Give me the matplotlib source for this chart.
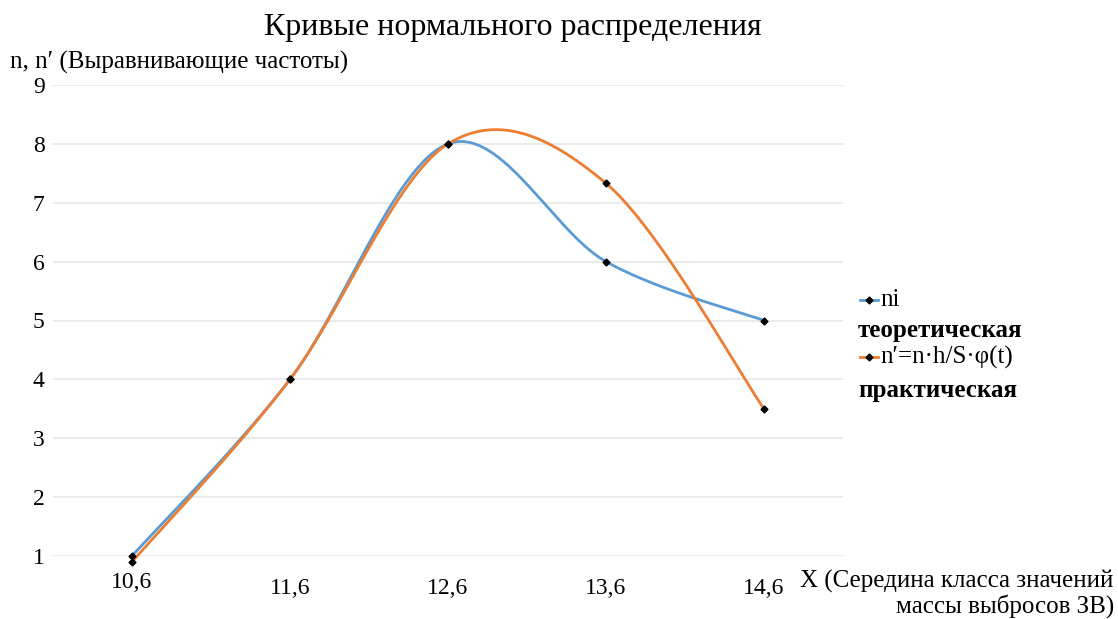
import numpy as np
import matplotlib
matplotlib.use("Agg")
import matplotlib.pyplot as plt
from matplotlib.lines import Line2D

categories = ["10,6", "11,6", "12,6", "13,6", "14,6"]
ni_theor = [1.0, 4.0, 8.0, 6.0, 5.0]
n_pract = [0.9, 4.0, 8.0, 7.33, 3.5]
y_ticks = [1, 2, 3, 4, 5, 6, 7, 8, 9]

title = "Кривые нормального распределения"
y_label = "n, n′ (Выравнивающие частоты)"
x_label1 = "X (Середина класса значений"
x_label2 = "массы выбросов ЗВ)"
leg1_a, leg1_b = "ni", "теоретическая"
leg2_a, leg2_b = "n′=n·h/S·φ(t)", "практическая"

c_blue = "#5B9BD5"
c_orange = "#ED7D31"

plt.rcParams['font.family'] = ['Liberation Serif', 'DejaVu Serif']


def smooth(xs, ys, n=60):
    xs = np.asarray(xs, float)
    ys = np.asarray(ys, float)
    P = np.column_stack([xs, ys])
    out = [P[0]]
    for i in range(len(P) - 1):
        p0 = P[i - 1] if i > 0 else P[i]
        p1 = P[i]
        p2 = P[i + 1]
        p3 = P[i + 2] if i + 2 < len(P) else P[i + 1]
        c1 = p1 + (p2 - p0) / 6.0
        c2 = p2 - (p3 - p1) / 6.0
        t = np.linspace(0, 1, n)[1:, None]
        seg = ((1 - t) ** 3) * p1 + 3 * ((1 - t) ** 2) * t * c1 + 3 * (1 - t) * t ** 2 * c2 + t ** 3 * p2
        out.extend(seg)
    out = np.array(out)
    return out[:, 0], out[:, 1]


fig = plt.figure(figsize=(11.18, 6.19), dpi=100)
ax = fig.add_axes([53 / 1118, 1 - 556 / 619, 790 / 1118, (556 - 85) / 619])

x = np.arange(len(categories))
for vals, col in [(ni_theor, c_blue), (n_pract, c_orange)]:
    sx, sy = smooth(x, vals)
    ax.plot(sx, sy, color=col, lw=2.0, clip_on=False, zorder=3, solid_capstyle='round')
    ax.plot(x, vals, linestyle='none', marker='D', ms=3.5, color='black', clip_on=False, zorder=4)

ax.set_xlim(-0.5, len(categories) - 0.5)
ax.set_ylim(1, 9)
ax.set_yticks(y_ticks)
ax.set_yticklabels([str(v) for v in y_ticks], fontsize=17)
ax.tick_params(axis='y', length=0, pad=6)
ax.set_xticks(x)
ax.set_xticklabels([])
ax.tick_params(axis='x', length=0)
ax.grid(axis='y', color='#E6E6E6', lw=1.2)
ax.set_axisbelow(True)
for s in ax.spines.values():
    s.set_visible(False)

# category labels (first one slightly higher, as in the reference)
for i, lab in enumerate(categories):
    dy = 583 if i == 0 else 588
    fig.text((53 + 158 * (i + 0.5)) / 1118, 1 - dy / 619, lab, ha='center', va='center', fontsize=17)

fig.text(0.5 * (263 + 763) / 1118, 1 - 28 / 619, title, ha='center', va='center', fontsize=23)
fig.text(10 / 1118, 1 - 62 / 619, y_label, ha='left', va='center', fontsize=18)
fig.text(800 / 1118, 1 - 581 / 619, x_label1, ha='left', va='center', fontsize=18)
fig.text(1114 / 1118, 1 - 606 / 619, x_label2, ha='right', va='center', fontsize=18)

# legend
for (ya, yb, a, b, col) in [(300, 330, leg1_a, leg1_b, c_blue), (357, 390, leg2_a, leg2_b, c_orange)]:
    yf = 1 - ya / 619
    fig.add_artist(Line2D([860 / 1118, 878 / 1118], [yf, yf], color=col, lw=2.0))
    fig.add_artist(Line2D([869 / 1118], [yf], marker='D', ms=3.5, color='black', linestyle='none'))
    fig.text(880 / 1118, yf, a, ha='left', va='center', fontsize=18)
    fig.text(858 / 1118, 1 - yb / 619, b, ha='left', va='center', fontsize=18, fontweight='bold')

fig.savefig("out.png", dpi=100)
